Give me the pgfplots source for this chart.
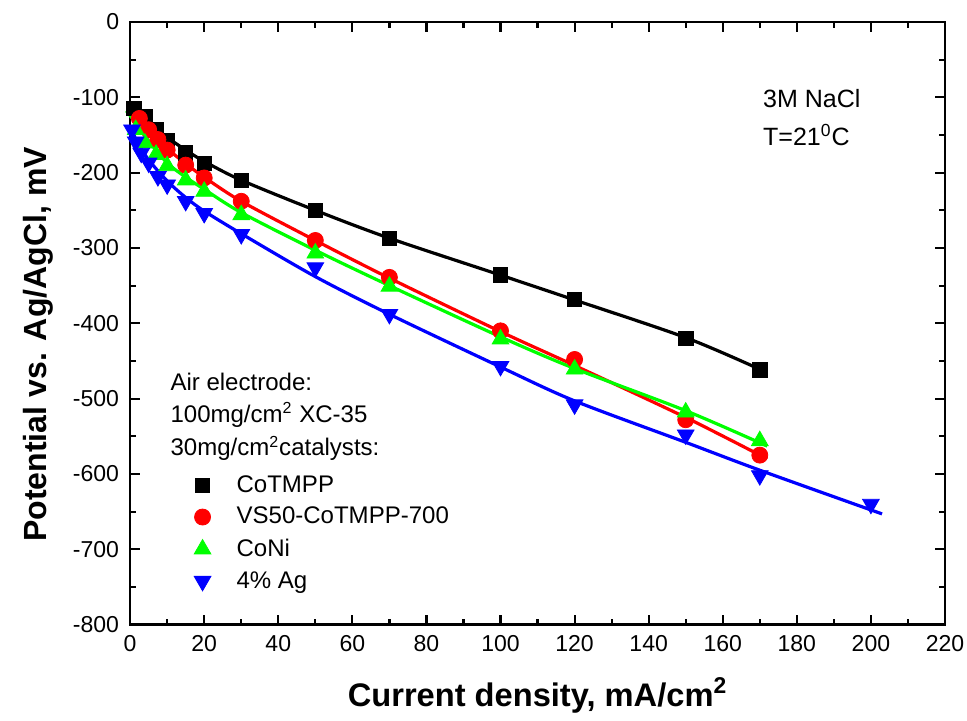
\documentclass[border=0pt]{standalone}
\usepackage{fontspec}
\setmainfont{Liberation Sans}
\usepackage{pgfplots}
\pgfplotsset{compat=1.18}
\definecolor{cgreen}{RGB}{0,255,0}
\definecolor{cred}{RGB}{255,0,0}
\definecolor{cblue}{RGB}{0,0,255}
\begin{document}
\begin{tikzpicture}
\begin{axis}[
  name=ax,
  scale only axis,
  width=407pt, height=301pt,
  xmin=0, xmax=220, ymin=-800, ymax=0,
  xtick distance=20, ytick distance=100,
  minor x tick num=1, minor y tick num=1,
  tick align=inside,
  major tick length=5pt, minor tick length=3pt,
  axis line style={line width=1.3pt},
  every tick/.style={line width=1.1pt, black},
  /pgf/number format/assume math mode=true,
  /pgf/number format/set thousands separator={},
  tick label style={font=\fontsize{11.5}{13}\selectfont},
  xticklabel style={yshift=-2pt},
  yticklabel style={xshift=-2pt},
  xlabel={Current density, mA/cm\textsuperscript{2}},
  ylabel={Potential vs. Ag/AgCl, mV},
  xlabel style={font=\fontsize{16.3}{18}\selectfont\bfseries, yshift=-6pt},
  ylabel style={font=\fontsize{16}{18}\selectfont\bfseries, at={(ticklabel cs:0.465)}, yshift=3pt},
  clip=false,
  legend style={at={(axis cs:13.5,-596)}, anchor=north west, draw=none, fill=none,
    font=\fontsize{12}{14}\selectfont, row sep=2pt, inner sep=0pt},
  legend cell align=left,
  legend image code/.code={\path[draw=none,fill=none] (0pt,-0.1pt) rectangle (26pt,0.1pt); \draw[#1] plot coordinates {(11pt,0pt)};},
]
% fitted lines
\addplot[black, line width=1.6pt, smooth, forget plot] coordinates {
 (0.3,-108) (2,-118) (5,-133) (10,-153) (15,-170) (20,-185) (30,-210) (50,-250) (70,-287) (100,-336) (120,-369) (150,-419) (170,-461)};
\addplot[cred, line width=1.6pt, smooth, forget plot] coordinates {
 (0,-117) (3,-133) (5,-145) (10,-168) (15,-188) (20,-206) (30,-238) (50,-290) (70,-340) (100,-411) (120,-456) (150,-525) (172,-580)};
\addplot[cgreen, line width=1.6pt, smooth, forget plot] coordinates {
 (-1,-118) (2,-137) (5,-158) (10,-187) (15,-206) (20,-222) (30,-253) (50,-303) (70,-350) (100,-418) (120,-460) (150,-516) (172,-563)};
\addplot[cblue, line width=1.6pt, smooth, forget plot] coordinates {
 (0,-139) (2,-160) (5,-183) (10,-211) (15,-233) (20,-251) (30,-281) (50,-338) (70,-388) (100,-458) (120,-503) (150,-558) (170,-595) (203,-653)};
% data markers
\addplot[only marks, mark=square*, mark size=3.6pt, black] coordinates {
 (1,-115) (4,-126) (7,-143) (10,-158) (15,-174) (20,-188) (30,-210) (50,-250) (70,-287) (100,-336) (120,-368) (150,-420) (170,-462)};
\addlegendentry{CoTMPP}
\addplot[only marks, mark=*, mark size=4pt, cred] coordinates {
 (2.5,-128) (5,-143) (7.5,-156) (10,-170) (15,-190) (20,-207) (30,-238) (50,-290) (70,-339) (100,-410) (120,-448) (150,-528) (170,-575)};
\addlegendentry{VS50-CoTMPP-700}
\addplot[only marks, mark=triangle*, mark size=4.8pt, cgreen] coordinates {
 (1.5,-143) (4,-161) (7,-176) (10,-191) (15,-210) (20,-225) (30,-256) (50,-307) (70,-351) (100,-421) (120,-461) (150,-518) (170,-556)};
\addlegendentry{CoNi}
\addplot[only marks, mark=triangle*, mark size=4.8pt, mark options={rotate=180}, cblue] coordinates {
 (0.5,-143) (1.5,-159) (3,-174) (5,-187) (7.5,-205) (10,-216) (15,-238) (20,-254) (30,-282) (50,-326) (70,-388) (100,-457) (120,-508) (150,-548) (170,-602) (200,-640)};
\addlegendentry{4\% Ag}
% annotations
\node[anchor=west, font=\fontsize{12.5}{14}\selectfont] at (axis cs:169,-101) {3M NaCl};
\node[anchor=west, font=\fontsize{12.5}{14}\selectfont] at (axis cs:169,-150) {T=21\textsuperscript{0}C};
\node[anchor=west, font=\fontsize{12}{14}\selectfont, inner sep=0pt] at (axis cs:10.8,-478) {Air electrode:};
\node[anchor=west, font=\fontsize{12}{14}\selectfont, inner sep=0pt] at (axis cs:10.8,-522) {100mg/cm\textsuperscript{2} XC-35};
\node[anchor=west, font=\fontsize{12}{14}\selectfont, inner sep=0pt] at (axis cs:10.8,-566) {30mg/cm\textsuperscript{2}catalysts:};
\end{axis}
\pgfresetboundingbox
\path ([shift={(-65pt,-48pt)}]ax.south west) rectangle ([shift={(11pt,11pt)}]ax.north east);
\end{tikzpicture}
\end{document}
